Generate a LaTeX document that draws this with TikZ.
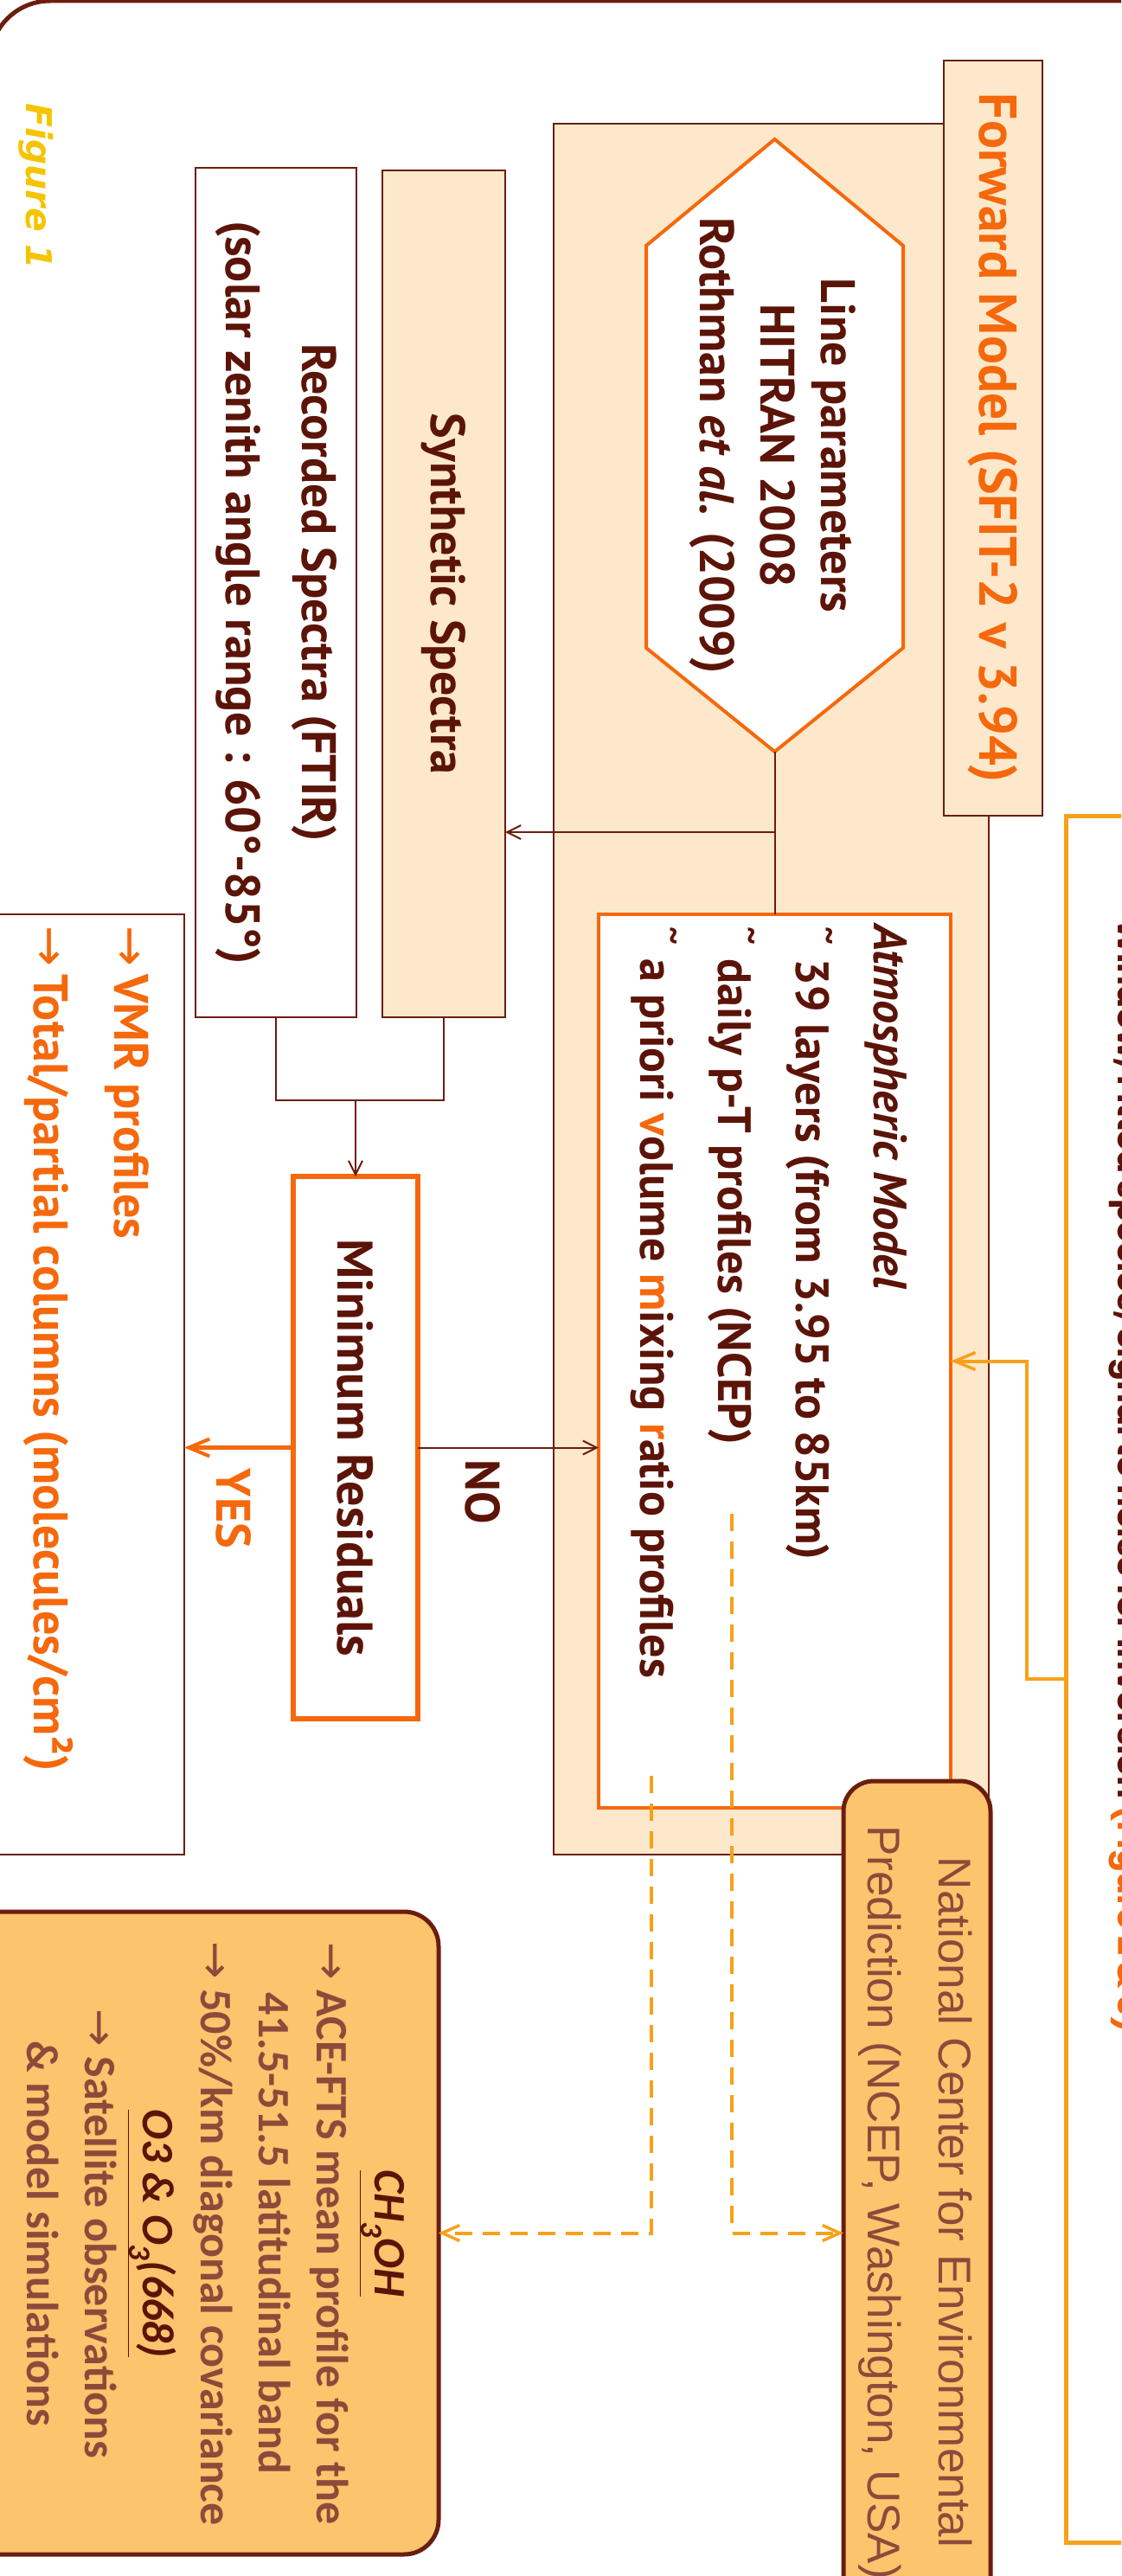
\documentclass[tikz,border=0pt]{standalone}
\usepackage{fontspec}
\setmainfont{PT Sans}
\newfontfamily\arialf{Liberation Sans}
\newfontfamily\calib{Carlito}
\newfontfamily\geo{Poppins}
\newfontfamily\symf{DejaVu Sans}
\usetikzlibrary{arrows.meta}
\definecolor{peach}{HTML}{FDE8CB}
\definecolor{dbrown}{HTML}{6B1D0E}
\definecolor{tbrown}{HTML}{5C1408}
\definecolor{mbrown}{HTML}{8C4B3A}
\definecolor{orng}{HTML}{F5680C}
\definecolor{amber}{HTML}{F7A11A}
\definecolor{boxor}{HTML}{FCC46D}
\definecolor{figy}{HTML}{F5C400}
\tikzset{
  every node/.style={inner sep=0pt, outer sep=0pt},
  thinbox/.style={draw=dbrown, line width=2.2pt},
  obox/.style={draw=orng, line width=4.5pt, fill=white},
  rbox/.style={draw=dbrown, line width=5pt, fill=boxor},
  lab/.style={text=tbrown, align=center, font=\bfseries\fontsize{56}{70}\selectfont},
  brline/.style={draw=dbrown, line width=2pt},
  brarrow/.style={brline, -{Straight Barb[length=16pt,width=16pt,line width=2pt]}},
  orarrow/.style={draw=orng, line width=5pt, -{Straight Barb[length=24pt,width=20pt,line width=4pt]}},
  amarrow/.style={draw=amber, line width=4pt, -{Straight Barb[length=24pt,width=20pt,line width=3.5pt]}},
  dasharrow/.style={draw=amber, line width=4pt, dash pattern=on 20pt off 12pt, -{Straight Barb[length=20pt,width=18pt,line width=3.5pt]}}
}
\begin{document}
\begin{tikzpicture}[x=1pt,y=1pt]
\begin{scope}[rotate=-90, transform shape]
\useasboundingbox (0,0) rectangle (2978,1296);
\clip (0,0) rectangle (2978,1296);
% outer frame
\draw[draw=dbrown, line width=5pt, rounded corners=70pt] (3300,-12) -- (1,-12) -- (1,1400);
% figure label
\node[text=figy, font=\symf\bfseries\itshape\fontsize{41}{48}\selectfont] (fig) at (215,42) {Figure 1};
% forward model region
\node[thinbox, fill=peach, minimum width=2001pt, minimum height=503pt] (fwd) at (1143.5,891.5) {};
\node[thinbox, fill=peach, minimum width=873pt, minimum height=114pt, lab, text=orng, font=\bfseries\fontsize{61.5}{70}\selectfont] (fm) at (506.5,1148) {Forward Model (SFIT-2 v 3.94)};
% hexagon
\draw[draw=orng, line width=4pt, fill=white] (161,895.5) -- (284,1044) -- (749,1044) -- (869,895.5) -- (749,747) -- (284,747) -- cycle;
\node[lab, font=\bfseries\fontsize{56}{70}\selectfont] (hex) at (515,893) {Line parameters\\HITRAN 2008\\Rothman \textit{et al.} (2009)};
\coordinate (hexS) at (869,895.5);
% spectra boxes
\node[thinbox, fill=peach, minimum width=979pt, minimum height=142pt, lab] (syn) at (686.5,513) {Synthetic Spectra};
\node[thinbox, fill=white, minimum width=982pt, minimum height=186pt, lab, font=\bfseries\fontsize{56}{88}\selectfont] (rec) at (685,319) {Recorded Spectra (FTIR)\\(solar zenith angle range : 60°-85°)};
% atmospheric model
\node[obox, minimum width=1033pt, minimum height=407pt] (atm) at (1573.5,895.5) {};
\node[anchor=west, align=left, text=tbrown, font=\bfseries\fontsize{54}{90}\selectfont] (atmtxt) at (1068,889)
 {\textit{Atmospheric Model}\\
  {\symf ˜} 39 layers (from 3.95 to 85km)\\
  {\symf ˜} daily p-T profiles (NCEP)\\
  {\symf ˜} a priori \textcolor{orng}{v}olume \textcolor{orng}{m}ixing \textcolor{orng}{r}atio profiles};
% minimum residuals
\node[obox, line width=6pt, minimum width=627pt, minimum height=144pt, lab, font=\bfseries\fontsize{58}{70}\selectfont] (minres) at (1673.5,411) {Minimum Residuals};
% output box
\node[thinbox, fill=white, minimum width=1087pt, minimum height=230pt] (out) at (1600.5,98) {};
\node[anchor=west, align=left, text=orng, font=\bfseries\fontsize{56}{93}\selectfont] (outtxt) at (1070,100)
 {{\symf\mdseries →}\,VMR profiles\\{\symf\mdseries →}\,Total/partial columns (molecules/cm²)};
% window box (cut by the page edge)
\node[draw=amber, line width=5pt, fill=white, minimum width=1996pt, minimum height=200pt] (win) at (1941,1332) {};
\node[anchor=base west, text=tbrown, font=\geo\bfseries\fontsize{38.5}{48}\selectfont] (wintxt) at (1062,1292)
 {Window, Fitted species, Signal to noise for inversion \textcolor{orng}{(Figure 2 \& 3)}};
% NCEP box
\node[rbox, rounded corners=35pt, minimum width=1001pt, minimum height=170pt] (ncep) at (2559.5,1060) {};
\node[align=center, text=mbrown, font=\arialf\fontsize{53}{82}\selectfont] (nceptxt) at (2546,1058)
 {National Center for Environmental\\Prediction (NCEP, Washington, USA)};
% CH3OH box
\node[rbox, rounded corners=40pt, minimum width=743pt, minimum height=577pt] (ch) at (2581.5,218.5) {};
\node[align=center, text=mbrown, font=\calib\bfseries\fontsize{52}{67}\selectfont] (chtxt) at (2582,249)
 {\textcolor{tbrown}{\textit{\underline{CH\textsubscript{3}OH}}}\\
  {\symf\mdseries →} ACE-FTS mean profile for the\\
  41.5-51.5 latitudinal band\\
  {\symf\mdseries →} 50\%/km diagonal covariance\\
  \textcolor{tbrown}{\textit{\underline{O3 \& O\textsubscript{3}(668)}}}\\
  {\symf\mdseries →} Satellite observations\\
  \& model simulations};
% connectors
\coordinate (br) at (962,895.5);
\draw[brline] (hexS) -- (atm.west);
\draw[brarrow] (br) -- (br |- syn.north);
\draw[brline] (rec.east) -- ++(96,0) |- (syn.east);
\coordinate (join) at (1272,411);
\draw[brarrow] (join) -- (minres.west);
\draw[brarrow] (minres.north) -- (minres.north |- atm.south);
\node[text=tbrown, font=\bfseries\fontsize{56}{60}\selectfont] (no) at (1725,558) {NO};
\draw[orarrow] (minres.south) -- (minres.south |- out.north);
\node[text=orng, font=\bfseries\fontsize{56}{60}\selectfont] (yes) at (1744,270) {YES};
\draw[amarrow] (win.south) -- ++(0,-45) -| (atm.north);
\coordinate (apEnd) at (2053,753);
\coordinate (ntEnd) at (1750,846);
\draw[dasharrow] (apEnd) -| (ch.north);
\draw[dasharrow] (ntEnd) -| (ch.north |- ncep.south);
\end{scope}
\end{tikzpicture}
\end{document}
